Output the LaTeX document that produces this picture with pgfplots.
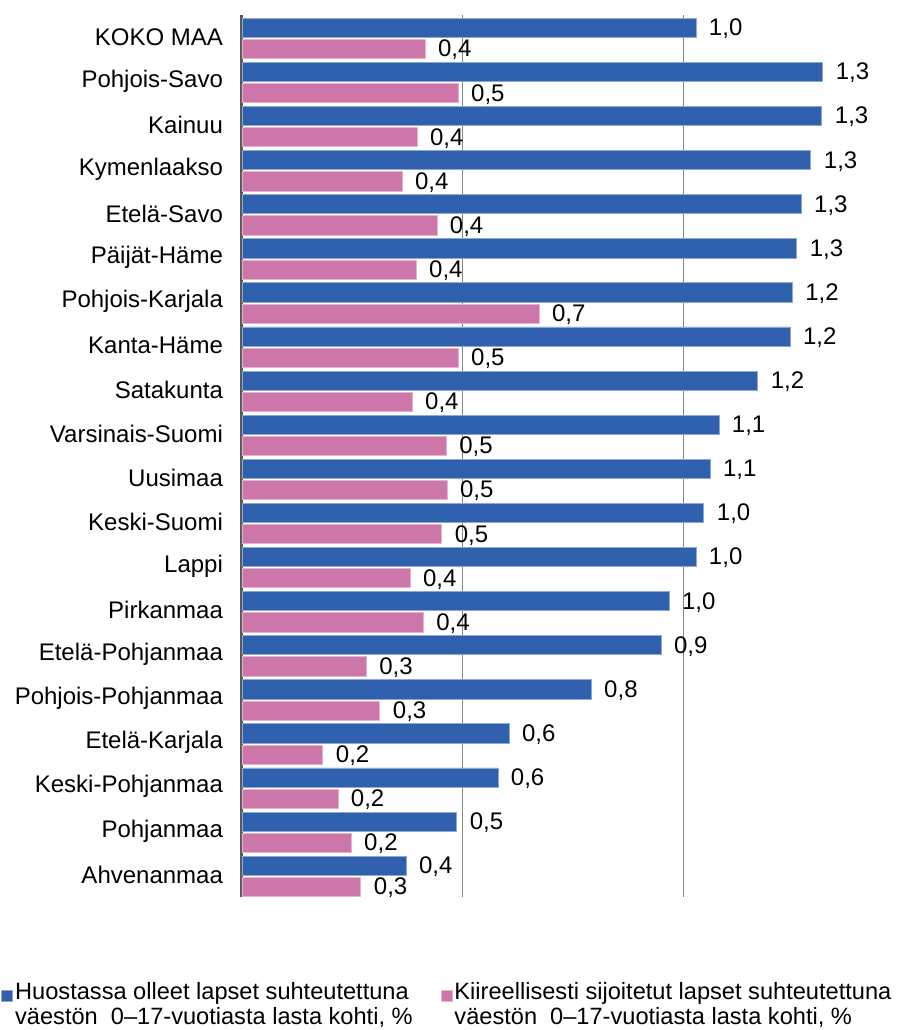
\documentclass[border=0pt]{standalone}
\usepackage{pgfplots}
\pgfplotsset{compat=1.18}
\usepackage{fontspec}
\setmainfont{Liberation Sans}
\definecolor{barblue}{HTML}{2F60AD}
\definecolor{barpink}{HTML}{CC76A9}
\definecolor{axisgray}{HTML}{5A5A5A}
\definecolor{gridgray}{HTML}{858585}
\begin{document}
\begin{tikzpicture}
\fill[white] (-121pt,-66.5pt) rectangle ++(450pt,515pt);
\useasboundingbox (-121pt,-66.5pt) rectangle ++(450pt,515pt);
\begin{axis}[
  at={(0,0)}, anchor=south west,
  scale only axis,
  width=325pt, height=441pt,
  xmin=0, xmax=1.4706,
  ymin=-0.5, ymax=19.5,
  y dir=reverse,
  xbar,
  bar width=9.6pt,
  axis lines*=left,
  x axis line style={draw=none},
  y axis line style={draw=axisgray, line width=1.5pt},
  xtick={0.5,1}, xticklabels={},
  xmajorgrids,
  major grid style={draw=gridgray, line width=0.5pt},
  major tick length=0pt,
  ytick={0,...,19},
  yticklabels={KOKO MAA,Pohjois-Savo,Kainuu,Kymenlaakso,Etelä-Savo,Päijät-Häme,Pohjois-Karjala,Kanta-Häme,Satakunta,Varsinais-Suomi,Uusimaa,Keski-Suomi,Lappi,Pirkanmaa,Etelä-Pohjanmaa,Pohjois-Pohjanmaa,Etelä-Karjala,Keski-Pohjanmaa,Pohjanmaa,Ahvenanmaa},
  yticklabel style={font=\fontsize{12}{13}\selectfont, xshift=-6pt},
  point meta=x,
  nodes near coords={\pgfmathprintnumber[fixed,fixed zerofill,precision=1,use comma,assume math mode=true]{\pgfplotspointmeta}},
  every node near coord/.append style={font=\fontsize{12}{13}\selectfont, anchor=west, xshift=3pt, yshift=-0.5pt, text=black},
  legend style={at={(0,0)}, anchor=north west, xshift=-120.5pt, yshift=-42.5pt,
    draw=none, fill=none, inner sep=0pt, font=\fontsize{11.8}{12.6}\selectfont,
    cells={align=left, anchor=west},
    nodes={inner xsep=1pt, inner ysep=0pt},
    /tikz/every even column/.append style={column sep=13pt}},
  legend columns=2,
  legend image code/.code={\fill[#1] (0pt,1.8pt) rectangle (5.5pt,7.3pt);},
]
\addplot+[bar shift=4.6pt, fill=barblue, draw=barblue!55!white, line width=0.4pt] coordinates {
(1.027,0) (1.314,1) (1.312,2) (1.287,3) (1.265,4) (1.255,5) (1.245,6) (1.240,7) (1.167,8) (1.079,9)
(1.059,10) (1.045,11) (1.027,12) (0.966,13) (0.948,14) (0.790,15) (0.604,16) (0.579,17) (0.486,18) (0.371,19)};
\addplot+[bar shift=-6.0pt, fill=barpink, draw=barpink!55!white, line width=0.4pt] coordinates {
(0.414,0) (0.489,1) (0.396,2) (0.362,3) (0.441,4) (0.394,5) (0.672,6) (0.489,7) (0.385,8) (0.462,9)
(0.464,10) (0.452,11) (0.380,12) (0.410,13) (0.281,14) (0.312,15) (0.183,16) (0.217,17) (0.247,18) (0.269,19)};
\legend{{Huostassa olleet lapset suhteutettuna\\väestön\ \ 0–17-vuotiasta lasta kohti, \%},
        {Kiireellisesti sijoitetut lapset suhteutettuna\\väestön\ \ 0–17-vuotiasta lasta kohti, \%}}
\end{axis}
\end{tikzpicture}
\end{document}
